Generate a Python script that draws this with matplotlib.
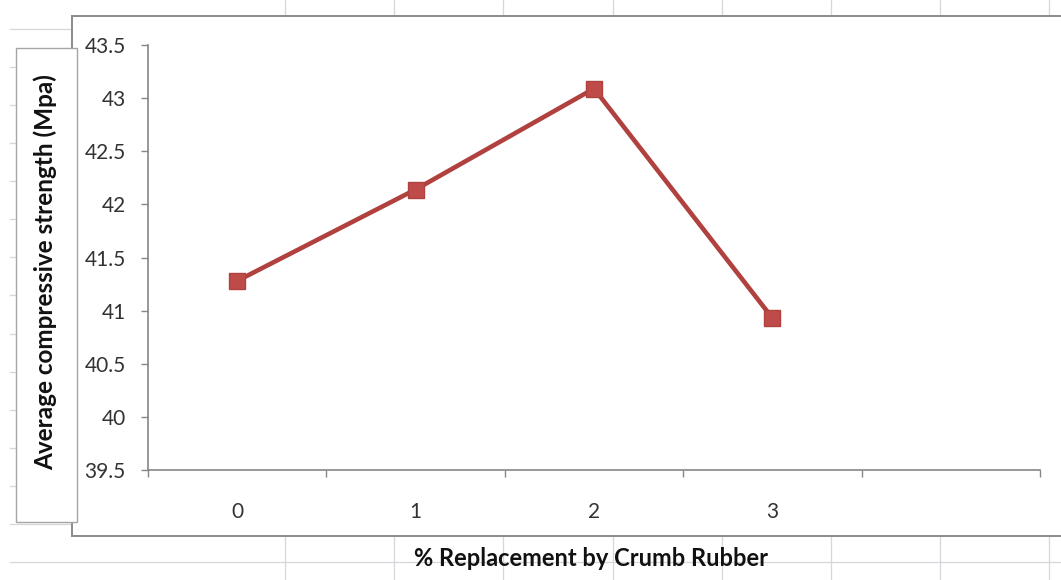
import matplotlib.pyplot as plt
import numpy as np
from matplotlib.patches import Rectangle
from matplotlib.lines import Line2D

# average compressive strength vs crumb rubber replacement
replacement = ["0", "1", "2", "3", ""]
strength = [41.28, 42.14, 43.09, 40.93]
y_ticks = [39.5, 40, 40.5, 41, 41.5, 42, 42.5, 43, 43.5]

W, H = 1061, 580
plt.rcParams["font.family"] = ["Lato", "DejaVu Sans"]

fig = plt.figure(figsize=(W / 100, H / 100), dpi=100)


def fx(x):
    return x / W


def fy(y):
    return 1 - y / H


# worksheet cell lines behind the chart
grid_col = "#d4d7dc"
for k in range(15):
    y = 29 + 38.07 * k
    fig.add_artist(Line2D([fx(10), 1], [fy(y), fy(y)], color=grid_col, lw=0.9, zorder=0))
for k in range(8):
    x = 285 + 109.2 * k
    fig.add_artist(Line2D([fx(x), fx(x)], [0, 1], color=grid_col, lw=0.9, zorder=0))

# chart area
area = Rectangle((fx(72), fy(536)), 1.2, fy(16) - fy(536), transform=fig.transFigure,
                 facecolor="white", edgecolor="#8a8a8a", lw=1.4, zorder=1)
fig.add_artist(area)

ax = fig.add_axes([fx(148), fy(470), fx(1040) - fx(148), fy(45) - fy(470)])
ax.set_zorder(2)
ax.patch.set_alpha(0)

ax.plot(range(len(strength)), strength, color="#b0413e", lw=3.3, marker="s", ms=11.5,
        mfc="#be4b48", mec="#b0413e", mew=1, solid_capstyle="round")

ax.set_xlim(-0.5, len(replacement) - 0.5)
ax.set_ylim(39.5, 43.5)
ax.set_yticks(y_ticks)
ax.set_yticklabels(["%g" % v for v in y_ticks])
ax.set_xticks(np.arange(-0.5, len(replacement), 1.0))
ax.set_xticklabels([])
ax.set_xticks(np.arange(len(replacement)), minor=True)
ax.set_xticklabels(replacement, minor=True)

for s in ["top", "right"]:
    ax.spines[s].set_visible(False)
for s in ["left", "bottom"]:
    ax.spines[s].set_color("#868686")
    ax.spines[s].set_linewidth(1.2)

ax.tick_params(axis="y", direction="out", length=5, width=1, color="#868686",
               labelsize=15, labelcolor="#333333", pad=11)
ax.tick_params(axis="x", which="major", direction="out", length=5, width=1, color="#868686")
ax.tick_params(axis="x", which="minor", length=0, labelsize=15, labelcolor="#333333", pad=23)

# axis title boxes
ybox = Rectangle((fx(16), fy(522)), fx(77) - fx(16), fy(48) - fy(522), transform=fig.transFigure,
                 facecolor="white", edgecolor="#a5a5a5", lw=1, zorder=3)
fig.add_artist(ybox)
fig.text(fx(45), fy(272), "Average compressive strength (Mpa)", rotation=90, ha="center",
         va="center", fontsize=17.5, fontweight="bold", color="#111111", zorder=4)
fig.text(fx(591), fy(559), "% Replacement by Crumb Rubber", ha="center", va="center",
         fontsize=17, fontweight="bold", color="#111111", zorder=4)

fig.savefig("out.png", dpi=100)
